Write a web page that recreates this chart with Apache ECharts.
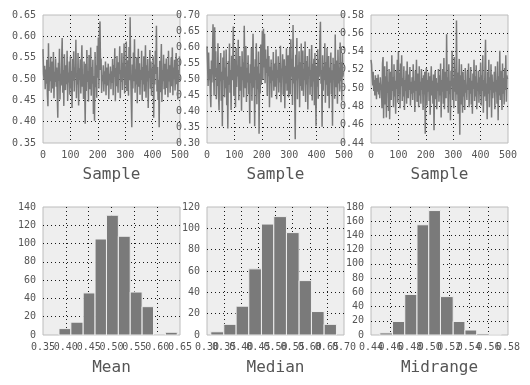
<!DOCTYPE html>
<html>
<head>
<meta charset="utf-8">
<script src="https://cdn.jsdelivr.net/npm/echarts@6/dist/echarts.min.js"></script>
<style>
html,body{margin:0;padding:0;background:#ffffff;}
#chart{width:530px;height:385px;}
</style>
</head>
<body>
<div id="chart"></div>
<script>
// Sample index step of the traced series (every other sample)
const sampleStep = 2;

const meanSamples = [
0.570,0.512,0.498,0.531,0.476,0.522,0.489,0.545,0.463,0.436,0.584,0.472,0.528,0.495,0.552,0.468,0.509,0.541,0.478,0.563,0.455,0.517,0.493,0.548,0.482,
0.527,0.461,0.409,0.538,0.496,0.571,0.452,0.512,0.485,0.543,0.596,0.468,0.521,0.437,0.558,0.503,0.474,0.532,0.488,0.566,0.449,0.515,0.492,0.541,0.463,
0.553,0.478,0.519,0.432,0.547,0.496,0.565,0.471,0.527,0.503,0.592,0.455,0.514,0.487,0.561,0.438,0.525,0.498,0.546,0.466,0.533,0.579,0.482,0.511,0.453,
0.541,0.488,0.395,0.536,0.472,0.568,0.493,0.519,0.447,0.556,0.502,0.476,0.574,0.461,0.528,0.489,0.545,0.418,0.507,0.402,0.563,0.481,0.532,0.456,0.578,
0.503,0.597,0.478,0.612,0.635,0.521,0.548,0.467,0.509,0.495,0.532,0.471,0.518,0.488,0.541,0.462,0.527,0.503,0.485,0.536,0.453,0.512,0.497,0.529,0.476,
0.518,0.491,0.547,0.462,0.533,0.505,0.572,0.448,0.526,0.483,0.554,0.497,0.468,0.539,0.512,0.577,0.455,0.521,0.493,0.561,0.474,0.538,0.502,0.583,0.466,
0.529,0.486,0.588,0.472,0.544,0.506,0.461,0.575,0.497,0.645,0.512,0.452,0.387,0.534,0.478,0.562,0.495,0.593,0.468,0.523,0.487,0.551,0.443,0.516,0.571,
0.482,0.537,0.463,0.521,0.498,0.566,0.449,0.528,0.487,0.553,0.471,0.514,0.579,0.456,0.532,0.494,0.547,0.432,0.519,0.503,0.568,0.477,0.541,0.461,0.525,
0.492,0.553,0.409,0.534,0.487,0.566,0.512,0.625,0.471,0.528,0.451,0.498,0.387,0.543,0.469,0.517,0.582,0.446,0.521,0.495,0.557,0.476,0.536,0.463,0.511,
0.548,0.479,0.523,0.457,0.566,0.494,0.532,0.468,0.515,0.551,0.483,0.574,0.462,0.527,0.499,0.545,0.473,0.518,0.561,0.488,0.536,0.452,0.521,0.496,0.553
];

const medianSamples = [
0.602,0.547,0.478,0.583,0.496,0.531,0.462,0.412,0.558,0.489,0.573,0.671,0.523,0.448,0.662,0.506,0.587,0.437,0.534,0.478,0.612,0.455,0.402,0.547,0.493,
0.581,0.432,0.523,0.352,0.567,0.498,0.589,0.443,0.536,0.471,0.592,0.418,0.508,0.345,0.556,0.482,0.611,0.457,0.528,0.403,0.573,0.496,0.539,0.664,0.447,
0.561,0.488,0.412,0.597,0.475,0.542,0.508,0.623,0.434,0.519,0.572,0.463,0.538,0.401,0.587,0.496,0.552,0.443,0.666,0.517,0.471,0.603,0.428,0.535,0.489,
0.574,0.452,0.518,0.361,0.546,0.487,0.598,0.432,0.526,0.641,0.473,0.538,0.352,0.562,0.497,0.612,0.421,0.539,0.468,0.586,0.329,0.517,0.455,0.608,0.482,
0.553,0.651,0.498,0.657,0.536,0.641,0.487,0.592,0.519,0.563,0.448,0.603,0.509,0.572,0.412,0.538,0.487,0.561,0.442,0.527,0.495,0.584,0.463,0.519,0.548,
0.476,0.592,0.437,0.528,0.503,0.571,0.458,0.546,0.489,0.604,0.427,0.533,0.512,0.577,0.451,0.498,0.562,0.409,0.541,0.486,0.596,0.463,0.525,0.574,0.442,
0.531,0.598,0.452,0.624,0.507,0.563,0.419,0.669,0.486,0.538,0.458,0.312,0.576,0.495,0.628,0.437,0.543,0.502,0.587,0.412,0.552,0.478,0.611,0.463,0.524,
0.589,0.447,0.532,0.496,0.617,0.428,0.556,0.483,0.572,0.405,0.538,0.512,0.594,0.451,0.527,0.476,0.606,0.433,0.548,0.492,0.563,0.418,0.581,0.467,0.352,
0.541,0.476,0.593,0.438,0.562,0.507,0.625,0.679,0.485,0.528,0.351,0.574,0.463,0.539,0.496,0.612,0.426,0.553,0.482,0.597,0.447,0.521,0.572,0.409,0.536,
0.488,0.583,0.452,0.527,0.354,0.566,0.498,0.547,0.438,0.639,0.474,0.558,0.512,0.423,0.591,0.486,0.536,0.461,0.614,0.493,0.552,0.432,0.578,0.507,0.521
];

const midrangeSamples = [
0.531,0.526,0.512,0.503,0.518,0.497,0.509,0.492,0.514,0.501,0.488,0.511,0.496,0.515,0.493,0.506,0.489,0.512,0.498,0.504,0.478,0.527,0.534,0.467,0.509,
0.524,0.482,0.513,0.468,0.529,0.495,0.507,0.475,0.521,0.466,0.503,0.518,0.487,0.536,0.497,0.512,0.479,0.526,0.491,0.508,0.472,0.519,0.499,0.531,0.484,
0.540,0.493,0.517,0.478,0.527,0.502,0.536,0.486,0.511,0.491,0.524,0.476,0.509,0.497,0.519,0.483,0.529,0.504,0.489,0.515,0.498,0.523,0.481,0.507,0.494,
0.512,0.487,0.526,0.495,0.508,0.474,0.519,0.497,0.531,0.485,0.503,0.516,0.479,0.524,0.492,0.507,0.483,0.521,0.498,0.511,0.476,0.514,0.493,0.518,0.450,
0.503,0.522,0.481,0.509,0.496,0.517,0.486,0.513,0.471,0.505,0.524,0.492,0.508,0.483,0.515,0.454,0.501,0.519,0.488,0.511,0.477,0.506,0.497,0.521,0.485,
0.514,0.492,0.527,0.468,0.509,0.496,0.521,0.483,0.533,0.477,0.505,0.518,0.489,0.559,0.497,0.512,0.473,0.526,0.494,0.508,0.465,0.519,0.502,0.541,0.487,
0.511,0.478,0.534,0.496,0.521,0.486,0.574,0.493,0.517,0.472,0.505,0.532,0.449,0.514,0.482,0.526,0.497,0.473,0.518,0.491,0.509,0.476,0.522,0.495,0.504,
0.487,0.519,0.498,0.527,0.479,0.511,0.494,0.523,0.482,0.508,0.472,0.516,0.499,0.531,0.486,0.513,0.491,0.525,0.477,0.506,0.497,0.519,0.484,0.512,0.493,
0.528,0.481,0.514,0.497,0.536,0.473,0.509,0.491,0.522,0.553,0.486,0.505,0.466,0.518,0.494,0.531,0.479,0.512,0.498,0.526,0.468,0.515,0.489,0.507,0.495,
0.518,0.477,0.524,0.496,0.509,0.483,0.529,0.465,0.513,0.492,0.541,0.487,0.519,0.501,0.476,0.527,0.494,0.511,0.482,0.522,0.498,0.536,0.485,0.514,0.510
];

// Histogram bin edges and counts
const meanEdges = [0.385,0.411,0.438,0.464,0.489,0.515,0.541,0.567,0.592,0.618,0.644];
const meanCounts = [7,14,46,105,131,108,47,31,1,3];
const medianEdges = [0.311,0.349,0.385,0.422,0.459,0.495,0.532,0.569,0.605,0.642,0.678];
const medianCounts = [3,10,27,62,104,111,96,51,22,10];
const midrangeEdges = [0.449,0.462,0.4745,0.487,0.499,0.511,0.524,0.536,0.548,0.561,0.573];
const midrangeCounts = [3,19,57,155,175,54,19,7,2,1];

// Axis settings (tick ranges)
const topAxes = [
  {min:0.35, max:0.65, interval:0.05},
  {min:0.30, max:0.70, interval:0.05},
  {min:0.44, max:0.58, interval:0.02}
];
const histXAxes = [
  {min:0.35, max:0.65, interval:0.05, name:'Mean'},
  {min:0.30, max:0.70, interval:0.05, name:'Median'},
  {min:0.44, max:0.58, interval:0.02, name:'Midrange'}
];
const histYAxes = [
  {min:0, max:140, interval:20},
  {min:0, max:120, interval:20},
  {min:0, max:180, interval:20}
];

const FONT = 'DejaVu Sans Mono';
const lefts = [43, 207, 371];
const W = 137, H = 128;
const grids = [];
lefts.forEach(l => grids.push({left:l, top:15, width:W, height:H, show:true, backgroundColor:'#eeeeee', borderColor:'#bcbcbc', borderWidth:1}));
lefts.forEach(l => grids.push({left:l, top:207, width:W, height:H, show:true, backgroundColor:'#eeeeee', borderColor:'#bcbcbc', borderWidth:1}));

function split(){
  return {show:true, showMinLine:false, showMaxLine:false, lineStyle:{color:'#000000', type:[1,3], width:1, opacity:0.9}};
}
function label(dec, parity){
  return {show:true, color:'#555555', fontFamily:FONT, fontSize:10, margin:7, showMinLabel:true, showMaxLabel:true,
    hideOverlap:false,
    formatter: (v, idx) => {
      if (parity !== undefined && (idx % 2) !== parity) return '';
      return dec === 0 ? String(Math.round(v)) : v.toFixed(dec);
    }};
}

const xAxis = [], yAxis = [], series = [];
for (let i = 0; i < 3; i++) {
  xAxis.push({type:'value', gridIndex:i, position:'bottom', min:0, max:500, interval:100, axisLine:{show:false}, axisTick:{show:false},
    axisLabel:label(0), splitLine:split(), name:'Sample', nameLocation:'middle', nameGap:24,
    nameTextStyle:{color:'#555555', fontFamily:FONT, fontSize:16}});
  yAxis.push({type:'value', gridIndex:i, min:topAxes[i].min, max:topAxes[i].max, interval:topAxes[i].interval,
    axisLine:{show:false}, axisTick:{show:false}, axisLabel:label(2), splitLine:split()});
}
for (let i = 0; i < 3; i++) {
  xAxis.push({type:'value', gridIndex:3+i, position:'bottom', min:histXAxes[i].min, max:histXAxes[i].max, interval:histXAxes[i].interval,
    axisLine:{show:false}, axisTick:{show:false}, axisLabel:label(2, 0), splitLine:split(),
    name:histXAxes[i].name, nameLocation:'middle', nameGap:25,
    nameTextStyle:{color:'#555555', fontFamily:FONT, fontSize:16}});
  yAxis.push({type:'value', gridIndex:3+i, min:histYAxes[i].min, max:histYAxes[i].max, interval:histYAxes[i].interval,
    axisLine:{show:false}, axisTick:{show:false}, axisLabel:label(0), splitLine:split()});
}
// companion axes carrying the alternate tick labels of the histogram x axes
for (let i = 0; i < 3; i++) {
  xAxis.push({type:'value', gridIndex:3+i, position:'bottom', offset:0, min:histXAxes[i].min, max:histXAxes[i].max, interval:histXAxes[i].interval,
    axisLine:{show:false}, axisTick:{show:false}, axisLabel:label(2, 1), splitLine:{show:false}});
}

[meanSamples, medianSamples, midrangeSamples].forEach((arr, i) => {
  series.push({type:'line', xAxisIndex:i, yAxisIndex:i, symbol:'none', silent:true, animation:false,
    lineStyle:{color:'#7a7a7a', width:1.5},
    data: arr.map((v, k) => [k * sampleStep, v])});
});

function histData(edges, counts){
  return counts.map((c, k) => [edges[k], edges[k+1], c]);
}
[[meanEdges, meanCounts], [medianEdges, medianCounts], [midrangeEdges, midrangeCounts]].forEach((h, i) => {
  series.push({type:'custom', xAxisIndex:3+i, yAxisIndex:3+i, animation:false, silent:true,
    encode:{x:[0,1], y:2},
    data: histData(h[0], h[1]),
    renderItem: function(params, api){
      const p0 = api.coord([api.value(0), api.value(2)]);
      const p1 = api.coord([api.value(1), 0]);
      return {type:'rect', shape:{x:p0[0], y:p0[1], width:p1[0]-p0[0], height:p1[1]-p0[1]},
        style:{fill:'#7a7a7a', stroke:'#eeeeee', lineWidth:1}};
    }});
});

const chart = echarts.init(document.getElementById('chart'), null, {renderer:'canvas'});
chart.setOption({animation:false, backgroundColor:'#ffffff', grid:grids, xAxis:xAxis, yAxis:yAxis, series:series});
</script>
</body>
</html>
